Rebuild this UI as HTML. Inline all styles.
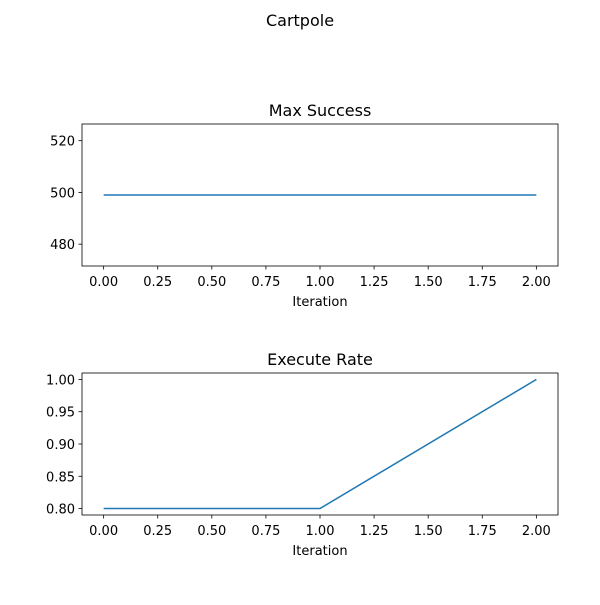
<!DOCTYPE html>
<html><head><meta charset="utf-8"><style>
body{margin:0;background:#fff}
svg text{font-family:"DejaVu Sans","Liberation Sans",sans-serif;fill:#000}
</style></head><body>
<svg id="c" width="600" height="600" xmlns="http://www.w3.org/2000/svg">
<text x="300" y="26" text-anchor="middle" font-size="16">Cartpole</text>
</svg>
<script>
const iterations=[0,1,2];
const maxSuccess=[499,499,499];
const executeRate=[0.8,0.8,1.0];
const xTicks=[0,0.25,0.5,0.75,1,1.25,1.5,1.75,2];
const xTickLabels=["0.00","0.25","0.50","0.75","1.00","1.25","1.50","1.75","2.00"];
const topTicks=[480,500,520];
const topTickLabels=["480","500","520"];
const botTicks=[0.8,0.85,0.9,0.95,1.0];
const botTickLabels=["0.80","0.85","0.90","0.95","1.00"];

const svg=document.getElementById('c');
const NS='http://www.w3.org/2000/svg';
function mk(t,a,p){const e=document.createElementNS(NS,t);for(const k in a)e.setAttribute(k,a[k]);(p||svg).appendChild(e);return e;}

function panel(name,top,title,ys,yt,ytl){
  const L=82,R=558,T=top,B=top+142;
  const g=mk('g',{});
  
  
  const xmin=-0.1,xmax=2.1;
  let ymin=Math.min(...ys),ymax=Math.max(...ys);
  if(ymin===ymax){ymin=ymin*0.95;ymax=ymax*1.05;}
  const pad=(ymax-ymin)*0.05;ymin-=pad;ymax+=pad;
  const sx=v=>L+(v-xmin)/(xmax-xmin)*(R-L);
  const sy=v=>B-(v-ymin)/(ymax-ymin)*(B-T);
  const ti=mk('text',{x:(L+R)/2,y:T-8,'text-anchor':'middle','font-size':'16'},g);ti.textContent=title;
  
  
  xTicks.forEach((v,i)=>{const x=sx(v);
    mk('line',{x1:x,x2:x,y1:B,y2:B+3.5,stroke:'#000','stroke-width':0.8},g);
    const t=mk('text',{x:x,y:B+20,'text-anchor':'middle','font-size':'13'},g);t.textContent=xTickLabels[i];
    
    });
  yt.forEach((v,i)=>{const y=sy(v);
    mk('line',{x1:L-3.5,x2:L,y1:y,y2:y,stroke:'#000','stroke-width':0.8},g);
    const t=mk('text',{x:L-7,y:y+5,'text-anchor':'end','font-size':'13'},g);t.textContent=ytl[i];
    
    });
  const xl=mk('text',{x:(L+R)/2,y:B+40,'text-anchor':'middle','font-size':'13'},g);xl.textContent='Iteration';
  
  
  const pl=mk('polyline',{points:iterations.map((v,i)=>sx(v)+','+sy(ys[i])).join(' '),fill:'none',stroke:'#1f77b4','stroke-width':1.5},g);
  
  
  const fr=mk('rect',{x:L,y:T,width:R-L,height:B-T,fill:'none',stroke:'#000','stroke-width':0.8},g);
  
  
}
panel('max-success',124,'Max Success',maxSuccess,topTicks,topTickLabels);
panel('execute-rate',373,'Execute Rate',executeRate,botTicks,botTickLabels);
</script>
</body></html>
